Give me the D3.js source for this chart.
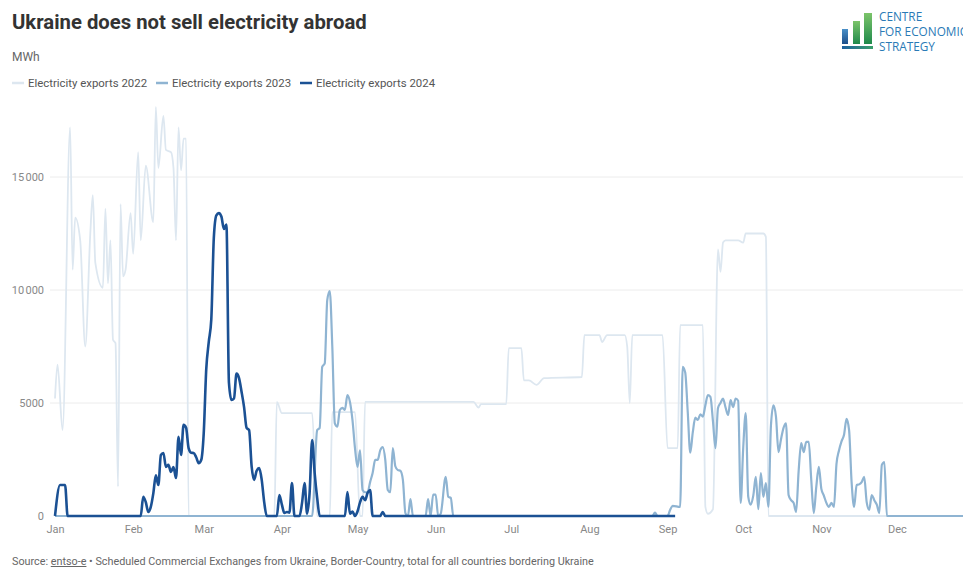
<!DOCTYPE html>
<html>
<head>
<meta charset="utf-8">
<script src="https://cdn.jsdelivr.net/npm/d3@7/dist/d3.min.js"></script>
<style>
  html, body { margin: 0; padding: 0; background: #fff; }
  svg { display: block; font-family: Roboto, "Noto Sans", sans-serif; }
</style>
</head>
<body>
<svg id="chart" width="963" height="567"></svg>
<script>
// Daily scheduled exports (MWh), as [month-day, value] on a common calendar axis.
const exports2022 = [
  ["01-01", 5200], ["01-02", 6700], ["01-04", 3800], ["01-07", 17200], ["01-08", 10900],
  ["01-09", 13200], ["01-11", 12200], ["01-13", 7500], ["01-15", 12500], ["01-16", 14200],
  ["01-17", 11200], ["01-20", 10100], ["01-21", 13600], ["01-22", 10300], ["01-23", 12200],
  ["01-24", 7800], ["01-25", 7650], ["01-26", 1300], ["01-27", 13800], ["01-28", 10600],
  ["01-29", 10900], ["01-31", 13400], ["02-01", 11600], ["02-03", 16100], ["02-04", 12200],
  ["02-06", 15500], ["02-09", 13000], ["02-10", 18100], ["02-11", 15400], ["02-13", 17700],
  ["02-14", 16200], ["02-16", 16100], ["02-17", 15400], ["02-18", 12200], ["02-19", 17200],
  ["02-20", 15300], ["02-21", 16700], ["02-22", 16700], ["02-23", 0], ["03-29", 0],
  ["03-30", 5050], ["04-01", 4550], ["04-13", 4550], ["04-15", 0], ["04-20", 0],
  ["04-21", 4600], ["04-30", 4600], ["05-02", 0], ["05-03", 0], ["05-04", 5050],
  ["06-16", 5050], ["06-18", 4800], ["06-19", 4950], ["06-29", 4950], ["06-30", 7430],
  ["07-05", 7430], ["07-06", 6000], ["07-08", 6000], ["07-11", 5800], ["07-14", 6100],
  ["07-29", 6150], ["07-30", 8000], ["08-05", 8000], ["08-06", 7700], ["08-08", 8000],
  ["08-15", 8000], ["08-16", 7480], ["08-17", 5000], ["08-18", 8000], ["08-30", 8000],
  ["09-01", 3000], ["09-05", 3000], ["09-06", 8450], ["09-15", 8450], ["09-16", 400],
  ["09-17", 100], ["09-19", 300], ["09-21", 11800], ["09-22", 10800], ["09-23", 12100],
  ["09-24", 12200], ["09-29", 12200], ["10-01", 12100], ["10-02", 12500], ["10-09", 12500],
  ["10-10", 12350], ["10-11", 0], ["12-31", 0]
];

const exports2023 = [
  ["01-01", 0], ["04-13", 0], ["04-15", 3800], ["04-16", 3900], ["04-17", 6600],
  ["04-18", 6750], ["04-19", 9550], ["04-20", 9950], ["04-21", 7500], ["04-22", 4100],
  ["04-23", 3950], ["04-24", 4690], ["04-25", 4780], ["04-26", 4700], ["04-27", 5350],
  ["04-28", 5050], ["04-29", 4250], ["04-30", 3000], ["05-01", 2170], ["05-02", 2900],
  ["05-03", 1150], ["05-04", 1050], ["05-05", 1050], ["05-06", 1500], ["05-07", 1900],
  ["05-08", 2480], ["05-09", 2480], ["05-10", 2900], ["05-11", 3050], ["05-12", 2500],
  ["05-13", 1150], ["05-14", 1050], ["05-15", 3000], ["05-16", 2200], ["05-17", 2030],
  ["05-18", 2000], ["05-19", 1600], ["05-20", 130], ["05-21", 0], ["05-22", 750],
  ["05-23", 0], ["05-28", 0], ["05-29", 750], ["05-30", 0], ["05-31", 950],
  ["06-01", 950], ["06-02", 0], ["06-03", 100], ["06-05", 1730], ["06-06", 850],
  ["06-07", 800], ["06-08", 0], ["08-26", 0], ["08-27", 150], ["08-28", 0],
  ["09-01", 0], ["09-02", 270], ["09-03", 450], ["09-06", 400], ["09-07", 6600],
  ["09-08", 6350], ["09-09", 4600], ["09-10", 2800], ["09-11", 3700], ["09-12", 4350],
  ["09-13", 4250], ["09-14", 4500], ["09-15", 4400], ["09-16", 4900], ["09-17", 5350],
  ["09-18", 5270], ["09-19", 4200], ["09-20", 3000], ["09-21", 4780], ["09-22", 5000],
  ["09-23", 5200], ["09-24", 4800], ["09-25", 4470], ["09-26", 5130], ["09-27", 4820],
  ["09-28", 5200], ["09-29", 5100], ["09-30", 580], ["10-01", 3000], ["10-02", 4550],
  ["10-03", 850], ["10-04", 500], ["10-05", 900], ["10-06", 1730], ["10-07", 300],
  ["10-08", 1900], ["10-09", 850], ["10-10", 1460], ["10-11", 400], ["10-12", 4000],
  ["10-13", 4900], ["10-14", 4400], ["10-15", 2830], ["10-16", 3400], ["10-17", 3900],
  ["10-18", 4100], ["10-19", 930], ["10-20", 700], ["10-21", 580], ["10-22", 180],
  ["10-23", 2000], ["10-24", 3230], ["10-25", 2830], ["10-26", 3280], ["10-27", 3280],
  ["10-28", 1600], ["10-29", 130], ["10-30", 1300], ["10-31", 2170], ["11-01", 1200],
  ["11-02", 900], ["11-03", 580], ["11-04", 400], ["11-05", 580], ["11-06", 400],
  ["11-07", 2300], ["11-08", 2900], ["11-09", 3300], ["11-10", 3600], ["11-11", 4300],
  ["11-12", 3800], ["11-13", 1500], ["11-14", 400], ["11-15", 1370], ["11-16", 1400],
  ["11-17", 1500], ["11-18", 1730], ["11-19", 600], ["11-20", 270], ["11-21", 930],
  ["11-22", 700], ["11-23", 500], ["11-24", 130], ["11-25", 2260], ["11-26", 2390],
  ["11-27", 0], ["12-31", 0]
];

const exports2024 = [
  ["01-01", 0], ["01-03", 1370], ["01-05", 1370], ["01-06", 0], ["02-04", 0],
  ["02-05", 850], ["02-06", 620], ["02-07", 180], ["02-08", 400], ["02-09", 1000],
  ["02-10", 1800], ["02-11", 1370], ["02-12", 2700], ["02-13", 2790], ["02-14", 2170],
  ["02-15", 2260], ["02-16", 1950], ["02-17", 2170], ["02-18", 1680], ["02-19", 3500],
  ["02-20", 2700], ["02-21", 4030], ["02-22", 3900], ["02-23", 3000], ["02-24", 2800],
  ["02-25", 2790], ["02-26", 2600], ["02-27", 2340], ["02-28", 2480], ["03-01", 3670],
  ["03-02", 6500], ["03-03", 7700], ["03-04", 8700], ["03-05", 12300], ["03-06", 13300],
  ["03-07", 13400], ["03-08", 13250], ["03-09", 12700], ["03-10", 12900], ["03-11", 5900],
  ["03-12", 5130], ["03-13", 5200], ["03-14", 6300], ["03-15", 6100], ["03-16", 5500],
  ["03-17", 4820], ["03-18", 3900], ["03-19", 3800], ["03-20", 2200], ["03-21", 1600],
  ["03-22", 2000], ["03-23", 2120], ["03-24", 1600], ["03-25", 600], ["03-26", 0],
  ["03-30", 0], ["03-31", 930], ["04-01", 500], ["04-02", 130], ["04-03", 180],
  ["04-04", 150], ["04-05", 1460], ["04-06", 0], ["04-08", 0], ["04-09", 580],
  ["04-10", 1460], ["04-11", 100], ["04-12", 1020], ["04-13", 3360], ["04-14", 1900],
  ["04-15", 800], ["04-16", 0], ["04-26", 0], ["04-27", 1060], ["04-28", 100],
  ["04-29", 200], ["04-30", 0], ["05-01", 200], ["05-02", 600], ["05-03", 850],
  ["05-04", 700], ["05-05", 1020], ["05-06", 1150], ["05-07", 0], ["05-10", 0],
  ["05-11", 180], ["05-12", 0], ["09-04", 0]
];

const seriesNames = ["Electricity exports 2022", "Electricity exports 2023", "Electricity exports 2024"];
const seriesColors = ["#dde7f0", "#8fb4d2", "#1b5194"];
const seriesWidths = [1.8, 2.2, 2.6];
const monthLabels = ["Jan", "Feb", "Mar", "Apr", "May", "Jun", "Jul", "Aug", "Sep", "Oct", "Nov", "Dec"];
const yTicks = [0, 5000, 10000, 15000];

const svg = d3.select("#chart");
const parseDay = d3.timeParse("%Y-%m-%d");
const toPoints = rows => rows.map(([md, v]) => ({ date: parseDay("2023-" + md), value: v }));
const series = [exports2022, exports2023, exports2024].map(toPoints);

const x = d3.scaleTime()
  .domain([parseDay("2023-01-01"), parseDay("2023-12-31")])
  .range([55, 972.6]);
const y = d3.scaleLinear().domain([0, 18000]).range([516, 109.2]);

// Title, unit and legend
svg.append("text").attr("x", 12).attr("y", 29)
  .attr("font-size", 20.3).attr("font-weight", 700).attr("fill", "#333")
  .text("Ukraine does not sell electricity abroad");
svg.append("text").attr("x", 12).attr("y", 61)
  .attr("font-size", 12).attr("fill", "#666").text("MWh");

const legendX = [12, 156, 300];
const legend = svg.append("g");
seriesNames.forEach((name, i) => {
  const g = legend.append("g").attr("transform", `translate(${legendX[i]},83)`);
  g.append("line").attr("x1", 0).attr("x2", 12).attr("y1", 0).attr("y2", 0)
    .attr("stroke", seriesColors[i]).attr("stroke-width", 2.5);
  g.append("text").attr("x", 16).attr("y", 4).attr("font-size", 11.4).attr("fill", "#555")
    .text(name);
});

// Logo
const logo = svg.append("g");
const defs = svg.append("defs");
const gBlue = defs.append("linearGradient").attr("id", "gBlue").attr("x1", 0).attr("x2", 0).attr("y1", 0).attr("y2", 1);
gBlue.append("stop").attr("offset", 0).attr("stop-color", "#4a90c8");
gBlue.append("stop").attr("offset", 1).attr("stop-color", "#1d4f8a");
const gGreen = defs.append("linearGradient").attr("id", "gGreen").attr("x1", 0).attr("x2", 0).attr("y1", 0).attr("y2", 1);
gGreen.append("stop").attr("offset", 0).attr("stop-color", "#7cc46a");
gGreen.append("stop").attr("offset", 1).attr("stop-color", "#1f8a4c");
const gBase = defs.append("linearGradient").attr("id", "gBase");
gBase.append("stop").attr("offset", 0).attr("stop-color", "#1d5fa0");
gBase.append("stop").attr("offset", 1).attr("stop-color", "#3aa06a");
logo.append("rect").attr("x", 842).attr("y", 29).attr("width", 6).attr("height", 15).attr("fill", "url(#gBlue)");
logo.append("rect").attr("x", 853).attr("y", 21).attr("width", 7).attr("height", 23).attr("fill", "url(#gGreen)");
logo.append("rect").attr("x", 864).attr("y", 13).attr("width", 8).attr("height", 31).attr("fill", "url(#gGreen)");
logo.append("rect").attr("x", 842).attr("y", 46).attr("width", 31).attr("height", 3).attr("fill", "url(#gBase)");
["CENTRE", "FOR ECONOMIC", "STRATEGY"].forEach((t, i) => {
  logo.append("text").attr("x", 879).attr("y", 21 + i * 15)
    .attr("font-family", "'Open Sans', sans-serif").attr("font-size", 11.8)
    .attr("fill", "#2a7ab6").text(t);
});

// Grid and axes
const grid = svg.append("g");
yTicks.filter(t => t > 0).forEach(t => {
  grid.append("line").attr("x1", 50).attr("x2", 963).attr("y1", y(t)).attr("y2", y(t))
    .attr("stroke", "#ececec").attr("stroke-width", 1);
});
const fmt = v => v >= 10000 ? d3.format(",")(v).replace(/,/g, "\u202f") : String(v);
const yAxis = d3.axisLeft(y).tickValues(yTicks).tickSize(0).tickFormat(fmt);
const yg = svg.append("g").attr("transform", "translate(47,0)").call(yAxis);
yg.select(".domain").remove();
yg.selectAll("text").attr("font-size", 11).attr("fill", "#888").attr("font-family", "Roboto, sans-serif");

const monthStarts = d3.range(12).map(m => new Date(2023, m, 1));
const xAxis = d3.axisBottom(x).tickValues(monthStarts).tickSize(0)
  .tickFormat((d, i) => monthLabels[i]);
const xg = svg.append("g").attr("transform", "translate(0,522)").call(xAxis);
xg.select(".domain").remove();
xg.selectAll("text").attr("font-size", 11).attr("fill", "#888").attr("font-family", "Roboto, sans-serif");

// Lines
const line = d3.line()
  .x(d => x(d.date))
  .y(d => y(d.value))
  .curve(d3.curveMonotoneX);

const plot = svg.append("g");
series.forEach((s, i) => {
  plot.append("path").datum(s)
    .attr("fill", "none")
    .attr("stroke", seriesColors[i])
    .attr("stroke-width", seriesWidths[i])
    .attr("stroke-linejoin", "round")
    .attr("d", line);
});

// Source note
const src = svg.append("text").attr("x", 12).attr("y", 565).attr("font-size", 10.8).attr("fill", "#666");
src.append("tspan").text("Source: ");
src.append("tspan").attr("text-decoration", "underline").text("entso-e");
src.append("tspan").text(" \u2022 Scheduled Commercial Exchanges from Ukraine, Border-Country, total for all countries bordering Ukraine");
</script>
</body>
</html>
